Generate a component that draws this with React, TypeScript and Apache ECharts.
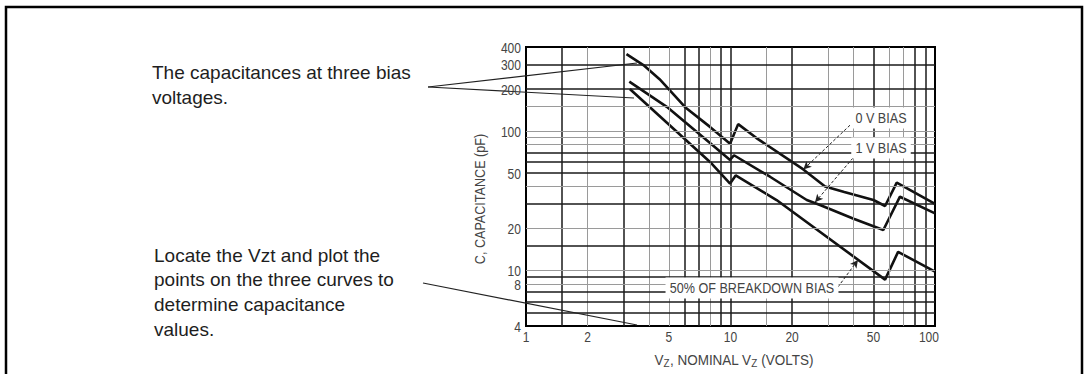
import React, { useEffect, useRef } from "react";
import * as echarts from "echarts";

// ---- data ----
const xTicks = [1, 2, 5, 10, 20, 50, 100];
const yTicks = [4, 8, 10, 20, 50, 100, 200, 300, 400];

const xGridDark = [1.5, 3, 6, 7, 9, 10, 20, 50, 80, 90];
const xGridLight = [2, 4, 5, 8, 15, 30, 40, 60, 70];
const yGridDark = [5, 6, 7, 9, 15, 30, 50, 60, 70, 200, 300];
const yGridLight = [8, 10, 20, 40, 80, 90, 100, 150];

const bias0V: [number, number][] = [
  [3.1, 356], [3.75, 297], [4.5, 235], [6.0, 148], [7.94, 107], [9.95, 81],
  [10.9, 112], [13.4, 89], [22.7, 53], [29, 40], [36, 36.5], [50, 32],
  [57, 29], [65, 42.6], [100, 30],
];
const bias1V: [number, number][] = [
  [3.2, 226], [4.88, 149], [7.94, 82], [9.95, 62], [10.4, 67], [15.6, 47],
  [23.6, 32], [27.4, 29.5], [40, 23.5], [55.9, 19.5], [67.4, 33.8], [100, 25.7],
];
const bias50: [number, number][] = [
  [3.22, 200], [7.94, 60], [9.95, 42], [10.6, 48], [16.8, 32], [57, 8.6],
  [66, 13.6], [100, 9.8],
];

// leader lines (label anchor -> point on curve), in data units
const leader0V: [number, number][] = [[38.4, 110], [22.7, 53]];
const leader1V: [number, number][] = [[39.7, 64], [25.9, 30.8]];
const leader50: [number, number][] = [[33.5, 7.6], [42, 11.9]];

const X_MIN = 1, X_MAX = 100, Y_MIN = 4, Y_MAX = 400;

const SANS = "'Liberation Sans', Arial, Helvetica, sans-serif";
const GREY_TEXT = "#444";

export default function App() {
  const ref = useRef<HTMLDivElement>(null);
  useEffect(() => {
    if (!ref.current) return;
    const chart = echarts.init(ref.current, undefined, { renderer: "svg" });

    const dark = { color: "#1a1a1a", width: 1.5, type: "solid" };
    const light = { color: "#9a9a9a", width: 1, type: "solid" };
    const gridLines = [
      ...xGridDark.map((v) => ({ xAxis: v, lineStyle: dark })),
      ...xGridLight.map((v) => ({ xAxis: v, lineStyle: light })),
      ...yGridDark.map((v) => ({ yAxis: v, lineStyle: dark })),
      ...yGridLight.map((v) => ({ yAxis: v, lineStyle: light })),
    ];

    const curveStyle = { color: "#111", width: 2.6 };
    const leaderStyle = { color: "#222", width: 1, type: [3, 2] as any };
    const mkLeader = (pts: [number, number][]) => [
      { coord: pts[0], lineStyle: leaderStyle },
      { coord: pts[1] },
    ];
    const leaderMark = (pts: [number, number][]) => ({
      silent: true,
      symbol: ["none", "arrow"],
      symbolSize: [6, 8],
      label: { show: false },
      emphasis: { disabled: true },
      itemStyle: { color: "#222" },
      data: [mkLeader(pts)],
    });

    chart.setOption({
      animation: false,
      backgroundColor: "#fff",
      grid: {
        left: 526,
        top: 47,
        right: 149,
        bottom: 48,
        show: true,
        borderColor: "#000",
        borderWidth: 2,
        backgroundColor: "transparent",
      },
      xAxis: {
        type: "log",
        logBase: 10,
        min: X_MIN,
        max: X_MAX,
        axisLine: { show: false },
        axisTick: { show: false },
        axisLabel: { show: false },
        splitLine: { show: false },
      },
      yAxis: {
        type: "log",
        logBase: 10,
        min: Y_MIN,
        max: Y_MAX,
        axisLine: { show: false },
        axisTick: { show: false },
        axisLabel: { show: false },
        splitLine: { show: false },
      },
      series: [
        {
          type: "line",
          data: [],
          z: 1,
          silent: true,
          markLine: {
            silent: true,
            symbol: "none",
            label: { show: false },
            emphasis: { disabled: true },
            data: gridLines,
          },
        },
        {
          name: "0 V BIAS",
          type: "line",
          z: 3,
          data: bias0V,
          showSymbol: false,
          lineStyle: curveStyle,
          silent: true,
          markLine: leaderMark(leader0V),
        },
        {
          name: "1 V BIAS",
          type: "line",
          z: 3,
          data: bias1V,
          showSymbol: false,
          lineStyle: curveStyle,
          silent: true,
          markLine: leaderMark(leader1V),
        },
        {
          name: "50% OF BREAKDOWN BIAS",
          type: "line",
          z: 3,
          data: bias50,
          showSymbol: false,
          lineStyle: curveStyle,
          silent: true,
          markLine: leaderMark(leader50),
        },
      ],
    });

    // condensed text helper (datasheet-style narrow lettering)
    const narrowText = (
      text: string,
      x: number,
      y: number,
      opts: any = {}
    ) => ({
      type: "text",
      x,
      y,
      scaleX: opts.scaleX ?? 0.86,
      rotation: opts.rotation ?? 0,
      z: opts.z ?? 40,
      silent: true,
      style: {
        text,
        align: opts.align ?? "center",
        verticalAlign: opts.verticalAlign ?? "middle",
        fontFamily: SANS,
        fontSize: opts.fontSize ?? 14,
        lineHeight: opts.lineHeight,
        fill: GREY_TEXT,
        backgroundColor: opts.backgroundColor,
        padding: opts.padding,
        rich: opts.rich,
      },
    });

    const toPx = (p: [number, number]) =>
      chart.convertToPixel({ xAxisIndex: 0, yAxisIndex: 0 }, p) as number[];

    const xTickTexts = xTicks.map((v, i) => {
      const [px, py] = toPx([v, Y_MIN]);
      const last = i === xTicks.length - 1;
      return narrowText(String(v), last ? px + 4 : px, py + 11, {
        align: last ? "right" : "center",
        lineHeight: 12,
      });
    });
    const yTickTexts = yTicks.map((v) => {
      const [px, py] = toPx([X_MIN, v]);
      return narrowText(String(v), px - 5, py + 1, {
        align: "right",
        lineHeight: 12,
      });
    });

    const labelBox = (text: string, x: number, y: number) =>
      narrowText(text, x, y, {
        scaleX: 0.84,
        fontSize: 15,
        z: 50,
        backgroundColor: "#fff",
        padding: [3, 5],
      });

    chart.setOption({
      graphic: [
        {
          type: "rect",
          z: 100,
          silent: true,
          shape: { x: 6, y: 7, width: 1076, height: 400 },
          style: { fill: "none", stroke: "#000", lineWidth: 2.5 },
        },
        {
          type: "text",
          x: 152,
          y: 60,
          silent: true,
          style: {
            text: "The capacitances at three bias\nvoltages.",
            fontFamily: SANS,
            fontSize: 19,
            lineHeight: 25,
            fill: "#1e1e1e",
            align: "left",
            verticalAlign: "top",
          },
        },
        {
          type: "text",
          x: 154,
          y: 243,
          silent: true,
          style: {
            text: "Locate the Vzt and plot the\npoints on the three curves to\ndetermine capacitance\nvalues.",
            fontFamily: SANS,
            fontSize: 19,
            lineHeight: 24.6,
            fill: "#1e1e1e",
            align: "left",
            verticalAlign: "top",
          },
        },
        {
          type: "line",
          silent: true,
          z: 20,
          shape: { x1: 428, y1: 87, x2: 637, y2: 63 },
          style: { stroke: "#222", lineWidth: 1.2 },
        },
        {
          type: "line",
          silent: true,
          z: 20,
          shape: { x1: 428, y1: 87, x2: 634, y2: 98 },
          style: { stroke: "#222", lineWidth: 1.2 },
        },
        {
          type: "line",
          silent: true,
          z: 20,
          shape: { x1: 423, y1: 283, x2: 637, y2: 325 },
          style: { stroke: "#222", lineWidth: 1.2 },
        },
        narrowText("C, CAPACITANCE (pF)", 480, 199, {
          rotation: Math.PI / 2,
          scaleX: 0.84,
          fontSize: 15,
        }),
        narrowText("V{s|Z}, NOMINAL V{s|Z} (VOLTS)", 734, 360, {
          scaleX: 0.9,
          fontSize: 15,
          rich: {
            s: { fontFamily: SANS, fontSize: 11, fill: GREY_TEXT, padding: [7, 0, 0, 0] },
          },
        }),
        ...xTickTexts,
        ...yTickTexts,
        labelBox("0 V BIAS", 881, 118),
        labelBox("1 V BIAS", 881, 148),
        labelBox("50% OF BREAKDOWN BIAS", 752, 288),
      ],
    });

    return () => chart.dispose();
  }, []);

  return (
    <div
      ref={ref}
      style={{ position: "fixed", left: 0, top: 0, width: 1084, height: 374, background: "#fff" }}
    />
  );
}
